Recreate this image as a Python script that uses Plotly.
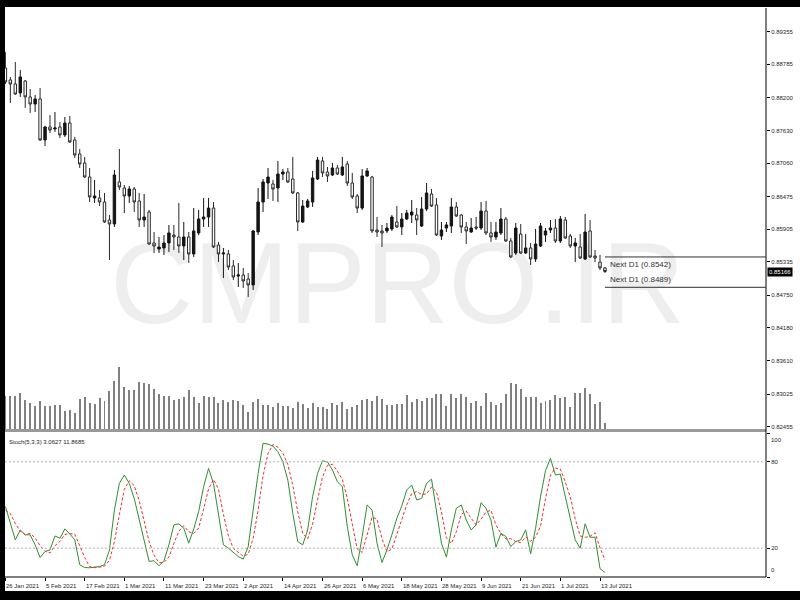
import plotly.graph_objects as go
import pandas as pd

# ---------------- data ----------------
open_ = [0.88721,0.88512,0.88442,0.88285,0.88494,0.88215,0.88092,0.88180,0.87464,0.87691,
         0.87656,0.87691,0.87551,0.87760,0.87464,0.87219,0.87062,0.86817,0.86450,0.86450,
         0.86380,0.86066,0.85996,0.86730,0.86625,0.86485,0.86607,0.86398,0.86066,0.86206,
         0.85664,0.85559,0.85577,0.85664,0.85804,0.85769,0.85612,0.85769,0.85472,0.85839,
         0.86083,0.86118,0.86275,0.85629,0.85472,0.85472,0.85263,0.85088,0.85105,0.85035,
         0.84931,0.85856,0.86380,0.86712,0.86695,0.86625,0.86869,0.86904,0.86782,0.86538,
         0.86031,0.86293,0.86380,0.86782,0.87097,0.86904,0.86852,0.86974,0.86852,0.87044,
         0.86712,0.86485,0.86275,0.86835,0.86817,0.85891,0.85874,0.85874,0.85909,0.86031,
         0.85944,0.86083,0.86153,0.86153,0.85961,0.86258,0.86520,0.86328,0.85786,0.85926,
         0.85961,0.86293,0.86153,0.85944,0.85856,0.85944,0.85926,0.86223,0.85839,0.85769,
         0.85839,0.86083,0.85699,0.85489,0.85821,0.85489,0.85577,0.85385,0.85612,0.85804,
         0.85891,0.85926,0.85699,0.86066,0.85786,0.85612,0.85594,0.85385,0.85874,0.85437,
         0.85332,0.85228]
high_ = [0.88999,0.88564,0.88826,0.88686,0.88512,0.88354,0.88250,0.88372,0.87708,0.87900,
         0.87953,0.87778,0.87865,0.87883,0.87516,0.87306,0.87167,0.86974,0.86765,0.86590,
         0.86538,0.86153,0.86939,0.87306,0.86677,0.86660,0.86642,0.86538,0.86520,0.86241,
         0.85856,0.85769,0.85804,0.85979,0.85979,0.86363,0.86031,0.85856,0.86275,0.86241,
         0.86450,0.86450,0.86380,0.85682,0.85577,0.85542,0.85367,0.85315,0.85228,0.85140,
         0.85891,0.86625,0.86782,0.86974,0.86765,0.87097,0.86957,0.86974,0.87167,0.86555,
         0.86415,0.86433,0.86922,0.87167,0.87167,0.86992,0.87062,0.87027,0.87167,0.87097,
         0.86887,0.86520,0.86957,0.86974,0.86835,0.86118,0.85979,0.86013,0.86153,0.86310,
         0.86188,0.86241,0.86415,0.86275,0.86468,0.86712,0.86607,0.86450,0.86031,0.86031,
         0.86450,0.86380,0.86171,0.86031,0.86101,0.86118,0.86380,0.86398,0.86031,0.86031,
         0.86275,0.86118,0.85752,0.86013,0.85996,0.85821,0.85664,0.85909,0.86013,0.85926,
         0.86066,0.86083,0.86136,0.86118,0.85821,0.85752,0.85821,0.86171,0.86066,0.85542,
         0.85455,0.85245]
low_ = [0.88442,0.88110,0.88250,0.88215,0.88023,0.87935,0.87953,0.87446,0.87359,0.87586,
        0.87603,0.87498,0.87516,0.87411,0.87149,0.86974,0.86800,0.86380,0.86363,0.86310,
        0.86013,0.85367,0.85944,0.86590,0.86188,0.86363,0.86206,0.85944,0.85944,0.85629,
        0.85489,0.85489,0.85455,0.85507,0.85542,0.85489,0.85367,0.85315,0.85420,0.85804,
        0.85944,0.85944,0.85577,0.85332,0.85053,0.85193,0.85018,0.84896,0.84878,0.84721,
        0.84843,0.85804,0.86206,0.86433,0.86398,0.86380,0.86765,0.86712,0.86520,0.85874,
        0.86013,0.86275,0.86293,0.86765,0.86817,0.86730,0.86835,0.86852,0.86835,0.86660,
        0.86433,0.86188,0.86241,0.86817,0.85839,0.85769,0.85594,0.85839,0.85874,0.85926,
        0.85804,0.86066,0.86013,0.85804,0.85944,0.86223,0.86293,0.85786,0.85717,0.85856,
        0.85839,0.86118,0.85839,0.85647,0.85839,0.85891,0.85891,0.85804,0.85682,0.85717,
        0.85804,0.85682,0.85402,0.85455,0.85472,0.85472,0.85280,0.85332,0.85594,0.85682,
        0.85839,0.85664,0.85664,0.85734,0.85577,0.85332,0.85385,0.85367,0.85402,0.85332,
        0.85193,0.85140]
close_ = [0.88477,0.88442,0.88267,0.88564,0.88215,0.88092,0.88180,0.87464,0.87691,0.87638,
          0.87673,0.87551,0.87760,0.87429,0.87202,0.87044,0.86817,0.86468,0.86485,0.86380,
          0.86031,0.85996,0.86852,0.86642,0.86485,0.86607,0.86380,0.86066,0.86118,0.85647,
          0.85612,0.85594,0.85664,0.85839,0.85769,0.85612,0.85769,0.85472,0.85874,0.86083,
          0.86118,0.86275,0.85594,0.85472,0.85489,0.85245,0.85070,0.85105,0.85001,0.84931,
          0.85874,0.86380,0.86730,0.86817,0.86607,0.86869,0.86904,0.86730,0.86538,0.86031,
          0.86310,0.86398,0.86800,0.87114,0.86887,0.86835,0.86974,0.86869,0.86992,0.86712,
          0.86468,0.86275,0.86835,0.86922,0.85874,0.85856,0.85839,0.85926,0.86118,0.85944,
          0.86083,0.86188,0.86206,0.86066,0.86258,0.86538,0.86310,0.85804,0.85891,0.85979,
          0.86293,0.86136,0.85944,0.85874,0.85926,0.85926,0.86223,0.85839,0.85769,0.85856,
          0.86083,0.85699,0.85420,0.85926,0.85489,0.85577,0.85385,0.85647,0.85961,0.85874,
          0.85926,0.85699,0.86083,0.85752,0.85612,0.85664,0.85402,0.85856,0.85420,0.85402,
          0.85228,0.85166]
volume = [34000,34000,34000,36300,29300,26600,24000,28300,24000,24000,
          24600,24600,19000,19600,16600,30600,32600,26600,25600,31600,
          28600,38300,48300,62300,42600,39300,39300,47300,46300,45600,
          40300,35600,33600,33600,29600,30600,33000,39300,32600,26600,
          33600,32300,32600,26600,29600,27600,29300,29000,24600,18000,
          27600,30600,24600,24600,22600,26600,23600,23600,21600,27600,
          25600,21600,26600,22600,22600,20600,26600,24600,27600,20600,
          22600,24600,29600,30600,28600,33600,30600,24600,24600,25600,
          25600,35000,27600,30600,28600,31600,31600,35600,35600,23600,
          35600,31600,35600,32600,26600,28600,23600,36600,27600,24600,
          26600,35600,46600,45600,40600,32600,32600,32600,26600,28600,
          29600,34600,31600,32600,22600,36600,36600,41600,35600,25600,
          27600,6600]
stoch_main = [48.9,37.0,25.8,32.7,29.3,29.3,22.3,13.5,17.7,18.8,
              28.5,26.9,33.4,29.9,25.8,8.5,6.6,6.4,6.6,7.3,
              8.5,18.8,46.5,65.0,70.8,65.0,54.6,39.6,23.5,10.8,
              11.3,7.8,11.3,22.3,36.2,36.9,33.9,23.5,33.2,45.4,
              62.7,75.4,65.0,43.1,22.3,20.0,17.0,14.2,12.4,21.1,
              46.5,72.0,92.8,92.3,90.9,87.0,80.0,67.3,44.2,24.6,
              22.3,32.7,55.8,72.0,80.7,80.0,74.3,66.2,62.7,35.0,
              15.4,7.8,28.1,50.1,46.5,23.5,10.1,18.8,29.3,40.8,
              49.3,60.4,63.9,53.5,54.6,65.0,68.0,44.2,23.5,13.8,
              32.7,47.7,50.0,39.6,32.7,36.2,51.6,47.7,39.6,20.7,
              30.4,28.1,21.2,24.6,25.8,32.7,16.1,33.9,55.8,73.8,
              82.4,70.8,71.5,55.8,39.6,25.8,20.0,36.9,27.6,27.6,
              5.9,3.0627]
stoch_signal = [46.5,44.0,37.2,31.8,29.3,30.4,27.0,21.7,17.8,16.7,
                21.7,24.7,29.6,30.1,29.7,21.4,13.6,7.2,6.5,6.8,
                7.5,11.5,24.6,43.4,60.8,66.9,63.5,53.1,39.2,24.6,
                15.2,10.0,10.1,13.8,23.3,31.8,35.7,31.4,30.2,34.0,
                47.1,61.2,67.7,61.2,43.5,28.5,19.8,17.1,14.5,15.9,
                26.7,46.5,70.4,85.7,92.0,90.1,86.0,78.1,63.8,45.4,
                30.4,26.5,36.9,53.5,69.5,77.6,78.3,73.5,67.7,54.6,
                37.7,19.4,17.1,28.7,41.6,40.0,26.7,17.5,19.4,29.6,
                39.8,50.2,57.9,59.3,57.3,57.7,62.5,59.1,45.2,27.2,
                23.3,31.4,43.5,45.8,40.8,36.2,40.2,45.2,46.3,36.0,
                30.2,26.4,26.6,24.6,23.9,27.7,24.9,27.6,35.3,54.5,
                70.7,75.7,74.9,66.0,55.6,40.4,28.5,27.6,28.2,30.7,
                20.4,11.8685]
date_labels = ["26 Jan 2021", "5 Feb 2021", "17 Feb 2021", "1 Mar 2021", "11 Mar 2021",
               "23 Mar 2021", "2 Apr 2021", "14 Apr 2021", "26 Apr 2021", "6 May 2021",
               "18 May 2021", "28 May 2021", "9 Jun 2021", "21 Jun 2021", "1 Jul 2021",
               "13 Jul 2021"]
price_ticks = [0.89355, 0.88785, 0.88200, 0.87630, 0.87060, 0.86475, 0.85905,
               0.85335, 0.84750, 0.84180, 0.83610, 0.83025, 0.82455]
stoch_ticks = [0, 20, 80, 100]
stoch_levels = [20, 80]
next_d1 = [0.8542, 0.8489]
watermark = "CMPRO.IR"

# ---------------- layout geometry ----------------
n = len(close_)
xs = list(range(n))
dates = pd.bdate_range("2021-01-26", periods=n)
date_pos = [int(dates.get_loc(pd.Timestamp(d))) for d in date_labels]

W, H = 800, 600
ML, MR, MT, MB = 5, 34, 8, 23
PW, PH = W - ML - MR, H - MT - MB


def py(p):  # pixel row -> paper y
    return (H - MB - p) / PH


def pxx(p):  # pixel col -> paper x
    return (p - ML) / PW


step, first = 4.955, 5.4
xmin, xmax = (ML - first) / step, (W - MR - first) / step
price_dom = [py(429.5), 1.0]
stoch_dom = [0.0, py(433)]
price_range = [0.82406, 0.89769]
vol_range = [0, 421500]

FONT = "Liberation Sans, Arial, sans-serif"
TXT = "#1e1e1e"
SMALL = 6

fig = go.Figure()

# watermark (behind everything, in the base subplot)
fig.add_trace(go.Scatter(
    x=[xmin + 0.516 * (xmax - xmin)], y=[0.3215], mode="text", text=[watermark],
    textfont=dict(size=115, color="#eeeeee", family=FONT),
    xaxis="x", yaxis="y", hoverinfo="skip", showlegend=False))

fig.add_trace(go.Candlestick(
    x=xs, open=open_, high=high_, low=low_, close=close_,
    increasing=dict(line=dict(color="#141414", width=1), fillcolor="#141414"),
    decreasing=dict(line=dict(color="#2a2a2a", width=1), fillcolor="#ffffff"),
    whiskerwidth=0, xaxis="x", yaxis="y2", showlegend=False, name="EURGBP"))

fig.add_trace(go.Bar(
    x=xs, y=volume, width=0.2, marker=dict(color="#808080", line=dict(width=0)),
    xaxis="x", yaxis="y3", showlegend=False, name="Volume"))

fig.add_trace(go.Scatter(
    x=xs, y=stoch_main, mode="lines", line=dict(color="#2f8f2f", width=1),
    xaxis="x", yaxis="y4", showlegend=False, name="Main"))
fig.add_trace(go.Scatter(
    x=xs, y=stoch_signal, mode="lines", line=dict(color="#f03030", width=1, dash="3px,2px"),
    xaxis="x", yaxis="y4", showlegend=False, name="Signal"))

axis_common = dict(showgrid=False, zeroline=False, showline=False, fixedrange=True)

fig.update_layout(
    width=W, height=H, template="none",
    margin=dict(l=ML, r=MR, t=MT, b=MB, pad=0),
    paper_bgcolor="#000000", plot_bgcolor="#ffffff",
    font=dict(family=FONT, size=SMALL, color=TXT),
    bargap=0, showlegend=False,
    xaxis=dict(range=[xmin, xmax], anchor="y4", tickvals=date_pos, ticks="outside",
               ticklen=3, tickcolor="#000000", showticklabels=False,
               rangeslider=dict(visible=False), **axis_common),
    yaxis=dict(domain=price_dom, range=[0, 1], visible=False, **axis_common),
    yaxis2=dict(overlaying="y", anchor="x", side="right", range=price_range,
                tickvals=price_ticks, ticktext=[f"{v:.5f}" for v in price_ticks],
                ticks="outside", ticklen=3, tickcolor="#000000",
                tickfont=dict(size=SMALL, color=TXT, family=FONT), **axis_common),
    yaxis3=dict(overlaying="y", anchor="x", range=vol_range, visible=False, **axis_common),
    yaxis4=dict(domain=stoch_dom, anchor="x", side="right", range=[0, 100],
                tickvals=stoch_ticks,
                ticktext=[str(v) if v not in (0, 100) else "" for v in stoch_ticks],
                ticks="outside", ticklen=3, tickcolor="#000000",
                tickfont=dict(size=SMALL, color=TXT, family=FONT), **axis_common),
)

shapes = [
    # white chart canvas inside the black frame
    dict(type="rect", xref="paper", yref="paper", x0=pxx(5), x1=pxx(800), y0=py(591), y1=py(7),
         fillcolor="#ffffff", line=dict(width=0), layer="below"),
    # separator between price and oscillator windows
    dict(type="line", xref="paper", yref="paper", x0=0, x1=1, y0=py(430.5), y1=py(430.5),
         line=dict(color="#9a9a9a", width=3)),
    # right and bottom axis lines
    dict(type="line", xref="paper", yref="paper", x0=1, x1=1, y0=0, y1=1,
         line=dict(color="#000000", width=1)),
    dict(type="line", xref="paper", yref="paper", x0=0, x1=1, y0=0, y1=0,
         line=dict(color="#000000", width=1)),
]
for lv in stoch_levels:
    shapes.append(dict(type="line", xref="paper", yref="y4", x0=0, x1=1, y0=lv, y1=lv,
                       line=dict(color="#b4b4b4", width=1, dash="2px,2px")))
for lv in next_d1:
    shapes.append(dict(type="line", xref="x", yref="y2", x0=n - 1, x1=xmax, y0=lv, y1=lv,
                       line=dict(color="#303030", width=1)))
fig.update_layout(shapes=shapes)

ann = []
for lab, pos in zip(date_labels, date_pos):
    ann.append(dict(x=pos, y=py(586), xref="x", yref="paper", text=lab, showarrow=False,
                    xanchor="left", yanchor="middle", xshift=-1,
                    font=dict(size=SMALL, color=TXT, family=FONT)))
# extreme oscillator labels kept inside the window, as the terminal draws them
ann.append(dict(x=1, y=100, xref="paper", yref="y4", text="100", showarrow=False,
                xanchor="left", yanchor="top", xshift=3, yshift=-2,
                font=dict(size=SMALL, color=TXT, family=FONT)))
ann.append(dict(x=1, y=0, xref="paper", yref="y4", text="0", showarrow=False,
                xanchor="left", yanchor="bottom", xshift=3, yshift=2,
                font=dict(size=SMALL, color=TXT, family=FONT)))
ann.append(dict(x=pxx(7), y=py(442), xref="paper", yref="paper",
                text=f"Stoch(5,3,3) {stoch_main[-1]:.4f} {stoch_signal[-1]:.4f}",
                showarrow=False, xanchor="left", yanchor="middle",
                font=dict(size=SMALL, color=TXT, family=FONT)))
ann.append(dict(x=n - 1, y=next_d1[0], xref="x", yref="y2", text=f"Next D1 ({next_d1[0]:.4f})",
                showarrow=False, xanchor="left", yanchor="top", xshift=3, yshift=-1,
                font=dict(size=8, color="#333333", family=FONT)))
ann.append(dict(x=n - 1, y=next_d1[1], xref="x", yref="y2", text=f"Next D1 ({next_d1[1]:.4f})",
                showarrow=False, xanchor="left", yanchor="bottom", xshift=3, yshift=1,
                font=dict(size=8, color="#333333", family=FONT)))
ann.append(dict(x=1, y=close_[-1], xref="paper", yref="y2", text=f"{close_[-1]:.5f}",
                showarrow=False, xanchor="left", yanchor="middle", xshift=1,
                bgcolor="#000000", borderpad=1,
                font=dict(size=SMALL, color="#ffffff", family=FONT)))
fig.update_layout(annotations=ann)

fig.write_html("out.html", config={"displayModeBar": False},
               post_script="document.body.style.margin='0';document.body.style.padding='0';")
